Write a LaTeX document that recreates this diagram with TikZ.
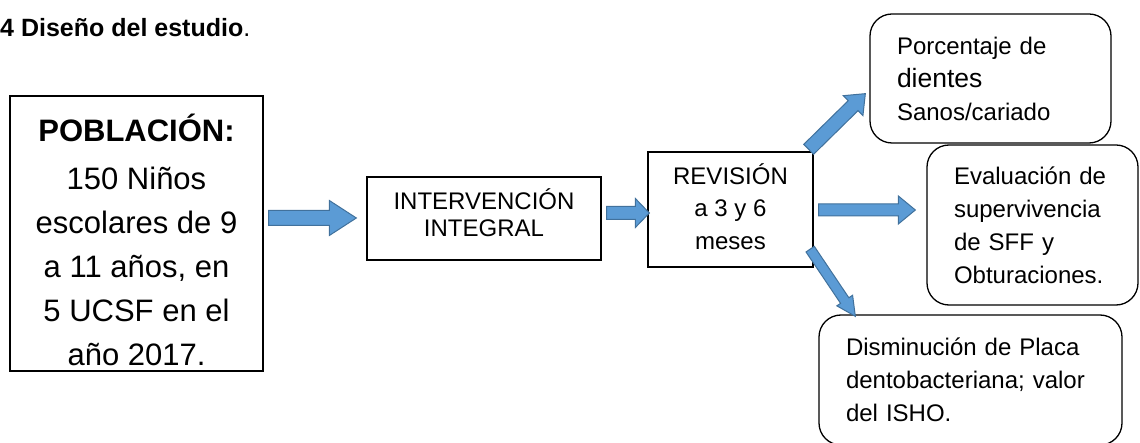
\documentclass[tikz,border=0pt]{standalone}
\usepackage{fontspec}
\setmainfont{Liberation Sans}
\usetikzlibrary{calc}
\definecolor{arrowfill}{HTML}{5B9BD5}
\definecolor{arrowline}{HTML}{41719C}

\begin{document}
\begin{tikzpicture}[x=1bp,y=-1bp,
  box/.style={draw,line width=1.3bp,align=center,inner sep=0pt},
  roundbox/.style={draw,line width=1.3bp,rounded corners=22bp,align=left,
    inner xsep=27bp,inner ysep=0pt,font=\fontsize{24bp}{33bp}\selectfont},
  fatarrow/.style n args={3}{fill=arrowfill,draw=arrowline,line width=1bp,
    to path={let \p1=(\tikztostart),\p2=(\tikztotarget),
      \n1={atan2(\y2-\y1,\x2-\x1)},\n2={veclen(\x2-\x1,\y2-\y1)} in
      ($(\p1)+(\n1+90:#1bp)$) -- ($(\p1)+(\n1:\n2*1pt-#3bp)+(\n1+90:#1bp)$)
      -- ($(\p1)+(\n1:\n2*1pt-#3bp)+(\n1+90:#2bp)$) -- (\p2)
      -- ($(\p1)+(\n1:\n2*1pt-#3bp)+(\n1-90:#2bp)$)
      -- ($(\p1)+(\n1:\n2*1pt-#3bp)+(\n1-90:#1bp)$)
      -- ($(\p1)+(\n1-90:#1bp)$) -- cycle}}]
  \useasboundingbox (0,0) rectangle (1140,443);

  % title
  \node[anchor=base west,inner sep=0pt,font=\fontsize{25bp}{30bp}\selectfont\bfseries]
    (title) at (0,37) {4 Diseño del estudio\textmd{.}};

  % left column: population
  \node[box,minimum width=253bp,minimum height=275bp,font=\fontsize{31bp}{44bp}\selectfont]
    (pop) at (136.5,233.5) {\rule{0pt}{40bp}\textbf{POBLACIÓN:}\\[4bp]150 Niños\\escolares de 9\\a 11 años, en\\5 UCSF en el\\año 2017.};

  % middle boxes
  \node[box,minimum width=234bp,minimum height=83bp,font=\fontsize{24bp}{27bp}\selectfont]
    (interv) at (484,218.5) {INTERVENCIÓN\\INTEGRAL\rule[-11bp]{0pt}{11bp}};
  \node[box,minimum width=165bp,minimum height=115bp,font=\fontsize{24bp}{32.5bp}\selectfont]
    (rev) at (730.5,209.5) {REVISIÓN\\a 3 y 6\\meses\rule[-6bp]{0pt}{6bp}};

  % results
  \node[roundbox,text width=187bp,minimum height=129bp] (pct) at (990.5,78.5)
    {Porcentaje de\\{\fontsize{26.5bp}{33bp}\selectfont dientes}\\Sanos/cariado};
  \node[roundbox,text width=157bp,minimum height=160bp] (eval) at (1032.5,225)
    {Evaluación de\\supervivencia\\de SFF y\\Obturaciones.};
  \node[roundbox,text width=249bp,minimum height=130bp] (dism) at (970.5,380)
    {Disminución de Placa\\dentobacteriana; valor\\del ISHO.};

  % arrow ends
  \coordinate (a1s) at ($(pop.east|-interv.west)+(5,-0.5)$);
  \coordinate (a1e) at ($(interv.west)+(-10,-0.5)$);
  \coordinate (a2s) at ($(interv.east)+(5,-5.5)$);
  \coordinate (a2e) at ($(rev.west)+(2,3.5)$);
  \coordinate (a3s) at ($(rev.east)+(5,0.5)$);
  \coordinate (a3e) at ($(eval.west)+(-11,-15)$);
  \coordinate (a4s) at ($(rev.north east)+(-5,-2)$);
  \coordinate (a4e) at ($(pct.south west)+(-4,-50)$);
  \coordinate (a5s) at ($(rev.south east)+(-3.5,-18.5)$);
  \coordinate (a5e) at ($(dism.north west)+(37,2)$);

  % block arrows
  \draw[fatarrow={7.5}{17.5}{27}] (a1s) to (a1e);
  \draw[fatarrow={6.5}{14.5}{14}] (a2s) to (a2e);
  \draw[fatarrow={6}{14}{17}] (a3s) to (a3e);
  \draw[fatarrow={7}{14}{17}] (a4s) to (a4e);
  \draw[fatarrow={5}{9.5}{19}] (a5s) to (a5e);
\end{tikzpicture}
\end{document}
